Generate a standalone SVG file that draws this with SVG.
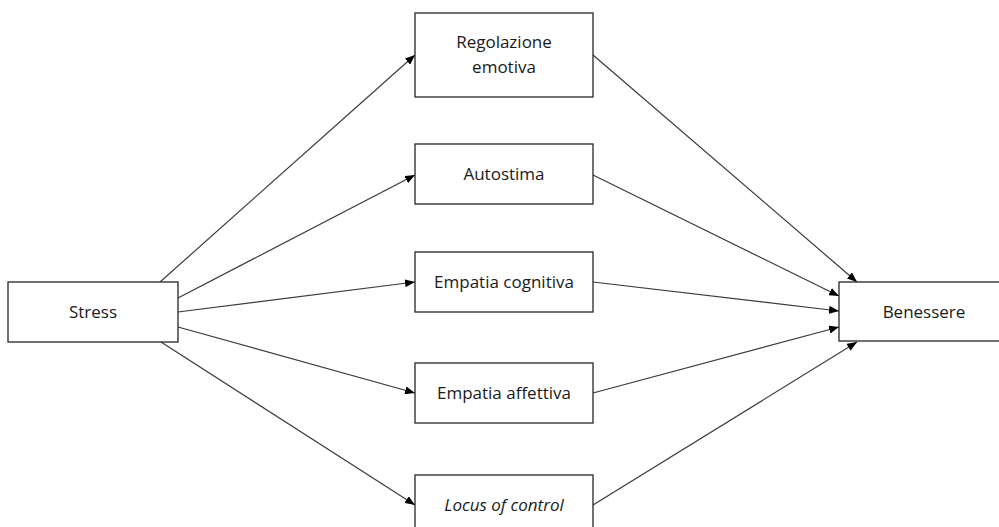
<svg xmlns="http://www.w3.org/2000/svg" width="999" height="527" viewBox="0 0 999 527">
<style>
.box{fill:#fff;stroke:#262626;stroke-width:1.3}
.t{font-family:"Open Sans","Liberation Sans",sans-serif;font-size:17px;fill:#1a1a1a;text-anchor:middle}
.c{stroke:#3a3a3a;stroke-width:1.2;fill:none;marker-end:url(#ah)}
</style>
<defs>
<marker id="ah" markerWidth="10" markerHeight="8" refX="10" refY="4" orient="auto" markerUnits="userSpaceOnUse">
<path d="M0,0 L10,4 L0,8 z" fill="#000"/>
</marker>
</defs>
<rect width="999" height="527" fill="#fff"/>
<g id="connectors">
<line class="c" x1="160" y1="282" x2="415" y2="55"/>
<line class="c" x1="178" y1="298" x2="415" y2="175"/>
<line class="c" x1="178" y1="312" x2="415" y2="282"/>
<line class="c" x1="178" y1="327" x2="415" y2="393"/>
<line class="c" x1="161" y1="342" x2="415" y2="505"/>
<line class="c" x1="593" y1="55" x2="857" y2="282"/>
<line class="c" x1="593" y1="175" x2="839" y2="296"/>
<line class="c" x1="593" y1="282" x2="839" y2="311"/>
<line class="c" x1="593" y1="393" x2="839" y2="327"/>
<line class="c" x1="593" y1="505" x2="857" y2="342"/>
</g>
<g id="stress"><rect class="box" x="8" y="282" width="170" height="60"/><text class="t" x="93" y="318">Stress</text></g>
<g id="regolazione"><rect class="box" x="415" y="13" width="178" height="84"/><text class="t" x="504" y="48">Regolazione</text><text class="t" x="504" y="73">emotiva</text></g>
<g id="autostima"><rect class="box" x="415" y="144" width="178" height="60"/><text class="t" x="504" y="180">Autostima</text></g>
<g id="empcog"><rect class="box" x="415" y="252" width="178" height="60"/><text class="t" x="504" y="288">Empatia cognitiva</text></g>
<g id="empaff"><rect class="box" x="415" y="363" width="178" height="60"/><text class="t" x="504" y="399">Empatia affettiva</text></g>
<g id="locus"><rect class="box" x="415" y="475" width="178" height="60"/><text class="t" x="504" y="511" font-style="italic">Locus of control</text></g>
<g id="benessere"><rect class="box" x="839" y="282" width="170" height="59"/><text class="t" x="924" y="318">Benessere</text></g>
</svg>
